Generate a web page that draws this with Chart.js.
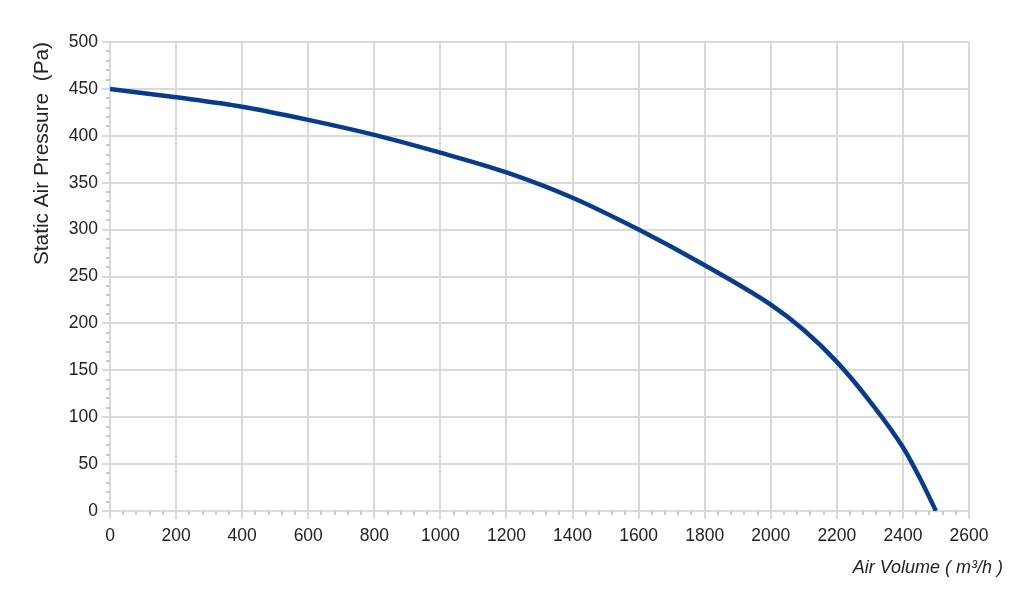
<!DOCTYPE html>
<html>
<head>
<meta charset="utf-8">
<script src="https://cdn.jsdelivr.net/npm/chart.js@4.4.1/dist/chart.umd.min.js"></script>
<style>
  html, body { margin: 0; padding: 0; background: #fff; }
  #wrap { width: 1024px; height: 601px; }
</style>
</head>
<body>
<div id="wrap"><canvas id="fanChart"></canvas></div>
<script>
// --- Data ---
const airVolume = [0, 200, 400, 600, 800, 1000, 1200, 1400, 1600, 1800, 2000, 2100, 2200, 2300, 2400, 2450, 2500];
const staticPressure = [450, 441, 431, 417, 401, 382, 361, 334, 300, 262, 220, 193, 159, 117, 68, 36, 0];

const xTitle = 'Air Volume ( m³/h )';
const yTitle = 'Static Air Pressure  (Pa)';

const gridColor = '#d9d9d9';
const textColor = '#222222';
const fontFamily = '"Liberation Sans", Arial, sans-serif';

// small ticks between the labelled ones, plus the x axis title
const extrasPlugin = {
    id: 'extras',
    afterDraw(chart) {
        const ctx = chart.ctx;
        const xs = chart.scales.x;
        const ys = chart.scales.y;
        const area = chart.chartArea;
        ctx.save();
        ctx.strokeStyle = '#c8c8c8';
        ctx.lineWidth = 2;
        ctx.beginPath();
        for (let v = 0; v <= xs.max; v += 40) {
            if (v % 200 === 0) continue;
            const px = Math.round(xs.getPixelForValue(v));
            ctx.moveTo(px, area.bottom);
            ctx.lineTo(px, area.bottom + 4);
        }
        for (let v = 0; v <= ys.max; v += 10) {
            if (v % 50 === 0) continue;
            const py = Math.round(ys.getPixelForValue(v));
            ctx.moveTo(area.left - 4, py);
            ctx.lineTo(area.left, py);
        }
        ctx.stroke();

        ctx.fillStyle = textColor;
        ctx.font = 'italic 18px ' + fontFamily;
        ctx.textAlign = 'right';
        ctx.textBaseline = 'middle';
        ctx.fillText(xTitle, area.right + 34, 568);
        ctx.restore();
    }
};

const plainNumber = (value) => String(value);

const ctxFan = document.getElementById('fanChart').getContext('2d');
new Chart(ctxFan, {
    type: 'line',
    data: {
        datasets: [{
            data: airVolume.map((x, i) => ({ x: x, y: staticPressure[i] })),
            borderColor: '#073c8c',
            borderWidth: 4.5,
            pointRadius: 0,
            cubicInterpolationMode: 'monotone',
            fill: false
        }]
    },
    options: {
        responsive: true,
        maintainAspectRatio: false,
        animation: false,
        layout: { padding: { top: 42, right: 55, bottom: 50, left: 30 } },
        plugins: {
            legend: { display: false },
            tooltip: { enabled: false }
        },
        scales: {
            x: {
                type: 'linear',
                min: 0,
                max: 2600,
                afterFit(scale) { scale.height = 40; },
                ticks: {
                    stepSize: 200,
                    color: textColor,
                    padding: 7,
                    maxRotation: 0,
                    callback: plainNumber,
                    font: { family: fontFamily, size: 17.5 }
                },
                grid: { color: gridColor, lineWidth: 2, tickLength: 8 },
                border: { color: gridColor, width: 2 }
            },
            y: {
                min: 0,
                max: 500,
                afterFit(scale) { scale.width = 80; },
                ticks: {
                    stepSize: 50,
                    color: textColor,
                    padding: 4,
                    callback: plainNumber,
                    font: { family: fontFamily, size: 17.5 }
                },
                title: {
                    display: true,
                    text: yTitle,
                    align: 'end',
                    color: textColor,
                    padding: { top: 0, bottom: 0 },
                    font: { family: fontFamily, size: 20.8 }
                },
                grid: { color: gridColor, lineWidth: 2, tickLength: 8 },
                border: { color: gridColor, width: 2 }
            }
        }
    },
    plugins: [extrasPlugin]
});
</script>
</body>
</html>
